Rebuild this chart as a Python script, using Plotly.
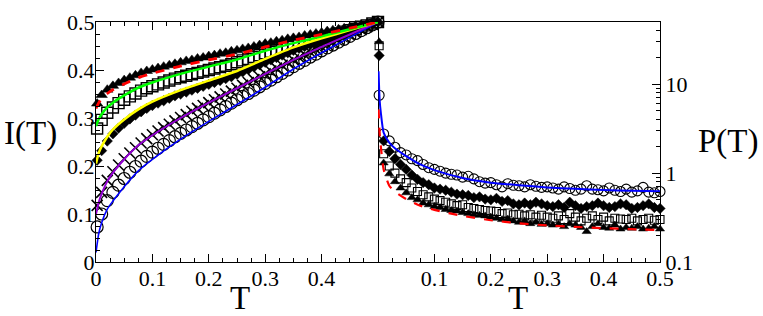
import plotly.graph_objects as go

# ---------------- data: left panel I(T) ----------------
LINE_T = [0, 0.005, 0.01, 0.02, 0.03, 0.05, 0.075, 0.1, 0.15, 0.2, 0.25, 0.3, 0.35, 0.4, 0.45, 0.5]
I_red = [0.32, 0.332, 0.34, 0.351, 0.359, 0.371, 0.384, 0.393, 0.408, 0.421, 0.433, 0.448, 0.462, 0.474, 0.487, 0.5]
I_green = [0.283, 0.298, 0.308, 0.322, 0.332, 0.347, 0.363, 0.374, 0.392, 0.407, 0.422, 0.440, 0.456, 0.470, 0.485, 0.5]
I_yellow = [0.205, 0.228, 0.241, 0.261, 0.276, 0.297, 0.318, 0.334, 0.358, 0.378, 0.398, 0.423, 0.447, 0.466, 0.483, 0.5]
I_purple = [0.10, 0.125, 0.142, 0.168, 0.186, 0.214, 0.243, 0.264, 0.300, 0.332, 0.362, 0.392, 0.421, 0.448, 0.474, 0.5]
I_blue = [0.02, 0.06, 0.082, 0.11, 0.127, 0.157, 0.19, 0.214, 0.256, 0.293, 0.328, 0.364, 0.402, 0.436, 0.468, 0.5]

MARK_T = [0.002, 0.01, 0.02, 0.03, 0.04, 0.05, 0.06, 0.07, 0.08, 0.09,
          0.10, 0.11, 0.12, 0.13, 0.14, 0.15, 0.16, 0.17, 0.18, 0.19,
          0.20, 0.21, 0.22, 0.23, 0.24, 0.25, 0.26, 0.27, 0.28, 0.29,
          0.30, 0.31, 0.32, 0.33, 0.34, 0.35, 0.36, 0.37, 0.38, 0.39,
          0.40, 0.41, 0.42, 0.43, 0.44, 0.45, 0.46, 0.47, 0.48, 0.49,
          0.50]

I_tri = [0.330, 0.348, 0.359, 0.367, 0.373, 0.379, 0.384, 0.389, 0.394, 0.398,
         0.401, 0.404, 0.407, 0.410, 0.413, 0.416, 0.419, 0.421, 0.424, 0.426,
         0.429, 0.431, 0.434, 0.436, 0.439, 0.441, 0.444, 0.446, 0.449, 0.452,
         0.455, 0.457, 0.460, 0.462, 0.465, 0.467, 0.469, 0.472, 0.474, 0.476,
         0.478, 0.481, 0.483, 0.485, 0.487, 0.489, 0.492, 0.494, 0.496, 0.498,
         0.500]
I_sq = [0.278, 0.296, 0.311, 0.322, 0.331, 0.338, 0.345, 0.351, 0.357, 0.362,
        0.366, 0.370, 0.374, 0.378, 0.382, 0.385, 0.388, 0.391, 0.394, 0.397,
        0.400, 0.403, 0.406, 0.409, 0.412, 0.416, 0.420, 0.423, 0.427, 0.431,
        0.435, 0.438, 0.441, 0.445, 0.448, 0.452, 0.455, 0.458, 0.461, 0.464,
        0.467, 0.470, 0.473, 0.476, 0.480, 0.483, 0.486, 0.490, 0.493, 0.497,
        0.500]
I_dia = [0.212, 0.232, 0.252, 0.267, 0.279, 0.289, 0.298, 0.306, 0.313, 0.320,
         0.326, 0.331, 0.336, 0.341, 0.346, 0.350, 0.354, 0.358, 0.362, 0.366,
         0.370, 0.374, 0.378, 0.382, 0.386, 0.391, 0.396, 0.401, 0.406, 0.411,
         0.416, 0.421, 0.426, 0.431, 0.436, 0.441, 0.445, 0.449, 0.453, 0.457,
         0.461, 0.465, 0.469, 0.473, 0.477, 0.480, 0.484, 0.488, 0.492, 0.496,
         0.500]
I_x = [0.118, 0.145, 0.170, 0.188, 0.202, 0.215, 0.227, 0.238, 0.248, 0.257,
       0.265, 0.273, 0.280, 0.287, 0.294, 0.301, 0.307, 0.314, 0.320, 0.326,
       0.332, 0.338, 0.344, 0.350, 0.356, 0.362, 0.368, 0.374, 0.380, 0.386,
       0.392, 0.398, 0.404, 0.410, 0.415, 0.421, 0.426, 0.432, 0.437, 0.443,
       0.448, 0.453, 0.458, 0.464, 0.469, 0.474, 0.479, 0.484, 0.490, 0.495,
       0.500]
I_circ = [0.073, 0.100, 0.128, 0.145, 0.160, 0.174, 0.187, 0.199, 0.210, 0.220,
          0.229, 0.237, 0.245, 0.253, 0.261, 0.268, 0.275, 0.282, 0.289, 0.296,
          0.303, 0.310, 0.317, 0.324, 0.331, 0.338, 0.345, 0.351, 0.358, 0.365,
          0.372, 0.379, 0.386, 0.393, 0.400, 0.407, 0.414, 0.420, 0.427, 0.433,
          0.440, 0.446, 0.452, 0.458, 0.464, 0.470, 0.476, 0.482, 0.488, 0.494,
          0.500]

# ---------------- data: right panel P(T) ----------------
PLINE_T = [0.001, 0.003, 0.005, 0.01, 0.02, 0.03, 0.05, 0.075, 0.1, 0.15, 0.2, 0.25, 0.3, 0.35, 0.4, 0.45, 0.5]
P_blue = [14, 6.5, 4.8, 2.85, 2.2, 1.9, 1.55, 1.25, 1.08, 0.88, 0.78, 0.73, 0.69, 0.665, 0.645, 0.632, 0.624]
P_red = [5.2, 2.8, 2.0, 1.1, 0.72, 0.62, 0.51, 0.43, 0.385, 0.33, 0.295, 0.272, 0.258, 0.248, 0.240, 0.234, 0.229]

P_circ = [7.5, 2.75, 2.3, 1.95, 1.7, 1.6, 1.45, 1.38, 1.25, 1.15,
          1.1, 1.05, 1.0, 0.97, 0.95, 0.9, 0.92, 0.86, 0.8, 0.77,
          0.78, 0.74, 0.7, 0.76, 0.73, 0.72, 0.7, 0.74, 0.71, 0.69,
          0.7, 0.68, 0.66, 0.7, 0.67, 0.64, 0.66, 0.72, 0.66, 0.65,
          0.63, 0.68, 0.64, 0.62, 0.66, 0.61, 0.63, 0.69, 0.61, 0.6,
          0.62]
P_dia = [21, 2.3, 1.75, 1.45, 1.25, 1.1, 0.95, 0.85, 0.78, 0.74,
         0.68, 0.66, 0.64, 0.61, 0.58, 0.57, 0.56, 0.53, 0.54, 0.51,
         0.50, 0.52, 0.48, 0.49, 0.45, 0.44, 0.46, 0.44, 0.47, 0.45,
         0.43, 0.42, 0.44, 0.41, 0.47, 0.43, 0.40, 0.42, 0.43, 0.46,
         0.43, 0.41, 0.42, 0.45, 0.44, 0.40, 0.41, 0.43, 0.45, 0.41,
         0.40]
P_sq = [27, 1.65, 1.2, 1.0, 0.86, 0.78, 0.68, 0.62, 0.57, 0.54,
        0.51, 0.49, 0.47, 0.45, 0.43, 0.44, 0.41, 0.40, 0.39, 0.38,
        0.375, 0.37, 0.35, 0.355, 0.34, 0.345, 0.33, 0.34, 0.32, 0.335,
        0.32, 0.31, 0.33, 0.30, 0.35, 0.32, 0.29, 0.31, 0.33, 0.30,
        0.32, 0.29, 0.31, 0.305, 0.30, 0.31, 0.29, 0.30, 0.31, 0.295,
        0.30]
P_tri = [30, 1.3, 0.98, 0.8, 0.68, 0.6, 0.53, 0.5, 0.46, 0.44,
         0.42, 0.41, 0.39, 0.38, 0.375, 0.36, 0.35, 0.34, 0.335, 0.33,
         0.32, 0.31, 0.30, 0.305, 0.29, 0.28, 0.29, 0.27, 0.28, 0.265,
         0.27, 0.26, 0.265, 0.25, 0.27, 0.26, 0.245, 0.22, 0.25, 0.27,
         0.245, 0.24, 0.26, 0.235, 0.245, 0.24, 0.25, 0.235, 0.24, 0.25,
         0.235]

X_TICKS_LEFT = [0, 0.1, 0.2, 0.3, 0.4]
X_LABELS_LEFT = ["0", "0.1", "0.2", "0.3", "0.4"]
Y_TICKS_LEFT = [0, 0.1, 0.2, 0.3, 0.4, 0.5]
Y_LABELS_LEFT = ["0", "0.1", "0.2", "0.3", "0.4", "0.5"]
X_TICKS_RIGHT = [0.1, 0.2, 0.3, 0.4, 0.5]
X_LABELS_RIGHT = ["0.1", "0.2", "0.3", "0.4", "0.5"]
Y_TICKS_RIGHT = [0.1, 1, 10]
Y_LABELS_RIGHT = ["0.1", "1", "10"]
Y_MINOR_RIGHT = [0.2, 0.3, 0.4, 0.5, 0.6, 0.7, 0.8, 0.9,
                 2, 3, 4, 5, 6, 7, 8, 9, 20, 30, 40]

FONT = "Liberation Serif"
BLACK = "black"

fig = go.Figure()


def mk(x, y, sym, size, xa, ya, lw=1.3):
    fig.add_trace(go.Scatter(
        x=x, y=y, mode="markers", xaxis=xa, yaxis=ya, cliponaxis=False,
        marker=dict(symbol=sym, size=size, color=BLACK,
                    line=dict(color=BLACK, width=lw)),
        showlegend=False, hoverinfo="skip"))


def ln(x, y, color, width, dash, xa, ya):
    fig.add_trace(go.Scatter(
        x=x, y=y, mode="lines", xaxis=xa, yaxis=ya,
        line=dict(color=color, width=width, dash=dash, shape="spline", smoothing=0.6),
        showlegend=False, hoverinfo="skip"))


# left panel markers
mk(MARK_T, I_circ, "circle-open", 12, "x", "y", 1.2)
mk(MARK_T, I_x, "x-thin-open", 11, "x", "y", 1.6)
mk(MARK_T, I_dia, "diamond", 8, "x", "y", 0.5)
mk(MARK_T, I_sq, "square-open", 11, "x", "y", 1.4)
mk(MARK_T, I_tri, "triangle-up", 10, "x", "y", 0.5)
# left panel lines
ln(LINE_T, I_blue, "rgb(0,0,255)", 1.6, "solid", "x", "y")
ln(LINE_T, I_purple, "rgb(148,0,211)", 2, "solid", "x", "y")
ln(LINE_T, I_yellow, "rgb(255,255,0)", 2.5, "solid", "x", "y")
ln(LINE_T, I_green, "rgb(0,255,0)", 2.5, "solid", "x", "y")
ln(LINE_T, I_red, "rgb(255,0,0)", 2.8, "dash", "x", "y")

# right panel markers
mk(MARK_T, P_circ, "circle-open", 10, "x2", "y2", 1.1)
mk(MARK_T, P_dia, "diamond", 8, "x2", "y2", 0.5)
mk(MARK_T, P_sq, "square-open", 8, "x2", "y2", 1.1)
mk(MARK_T, P_tri, "triangle-up", 8, "x2", "y2", 0.5)
# right panel lines
ln(PLINE_T, P_blue, "rgb(0,0,255)", 2, "solid", "x2", "y2")
ln(PLINE_T, P_red, "rgb(255,0,0)", 2.2, "dash", "x2", "y2")

tickfont = dict(family=FONT, size=22, color=BLACK)
common = dict(showline=True, linecolor=BLACK, linewidth=1.3, ticks="inside",
              ticklen=8, tickwidth=1.2, tickcolor=BLACK, showgrid=False,
              zeroline=False, ticklabeloverflow="allow", tickfont=tickfont)
minor_lin = dict(dtick=0.025, tick0=0, ticks="inside", ticklen=4,
                 tickcolor=BLACK, tickwidth=1)

fig.update_layout(
    width=763, height=316,
    margin=dict(l=96, r=103, t=10, b=54),
    paper_bgcolor="white", plot_bgcolor="white",
    font=dict(family=FONT, size=22, color=BLACK),
    xaxis=dict(domain=[0, 0.5], range=[0, 0.5], tickmode="array",
               tickvals=X_TICKS_LEFT, ticktext=X_LABELS_LEFT, ticklabelstandoff=-4,
               mirror="ticks", anchor="y", minor=minor_lin, **common),
    yaxis=dict(domain=[0, 1], range=[0, 0.5], tickmode="array",
               tickvals=Y_TICKS_LEFT, ticktext=Y_LABELS_LEFT, ticklabelstandoff=-4,
               mirror=True, anchor="x", minor=minor_lin, **common),
    xaxis2=dict(domain=[0.5, 1], range=[0, 0.5], tickmode="array",
                tickvals=X_TICKS_RIGHT, ticktext=X_LABELS_RIGHT, ticklabelstandoff=-4,
                mirror=True, anchor="y2", minor=minor_lin, **common),
    yaxis2=dict(domain=[0, 1], type="log", range=[-1, 1.699], side="right",
                tickmode="array", tickvals=Y_TICKS_RIGHT, ticktext=Y_LABELS_RIGHT,
                mirror=False, anchor="x2",
                minor=dict(tickmode="array", tickvals=Y_MINOR_RIGHT, ticks="inside",
                           ticklen=4, tickcolor=BLACK, tickwidth=1), **common),
)

titlefont = dict(family=FONT, size=33, color=BLACK)
plot_w = 763 - 96 - 103
plot_h = 316 - 10 - 54


def px2paper(px, py):
    return (px - 96) / plot_w, (316 - 54 - py) / plot_h


for txt, px, py, xa, ya in [("I(T)", 3, 127, "left", "middle"),
                            ("T", 240, 300, "center", "middle"),
                            ("T", 518, 300, "center", "middle"),
                            ("P(T)", 760, 135, "right", "middle")]:
    xp, yp = px2paper(px, py)
    fig.add_annotation(text=txt, x=xp, y=yp, xref="paper", yref="paper",
                       showarrow=False, font=titlefont, xanchor=xa, yanchor=ya,
                       borderpad=0)

fig.write_html("out.html", config={"displayModeBar": False},
               post_script="document.body.style.margin='0px';document.body.style.padding='0px';")
